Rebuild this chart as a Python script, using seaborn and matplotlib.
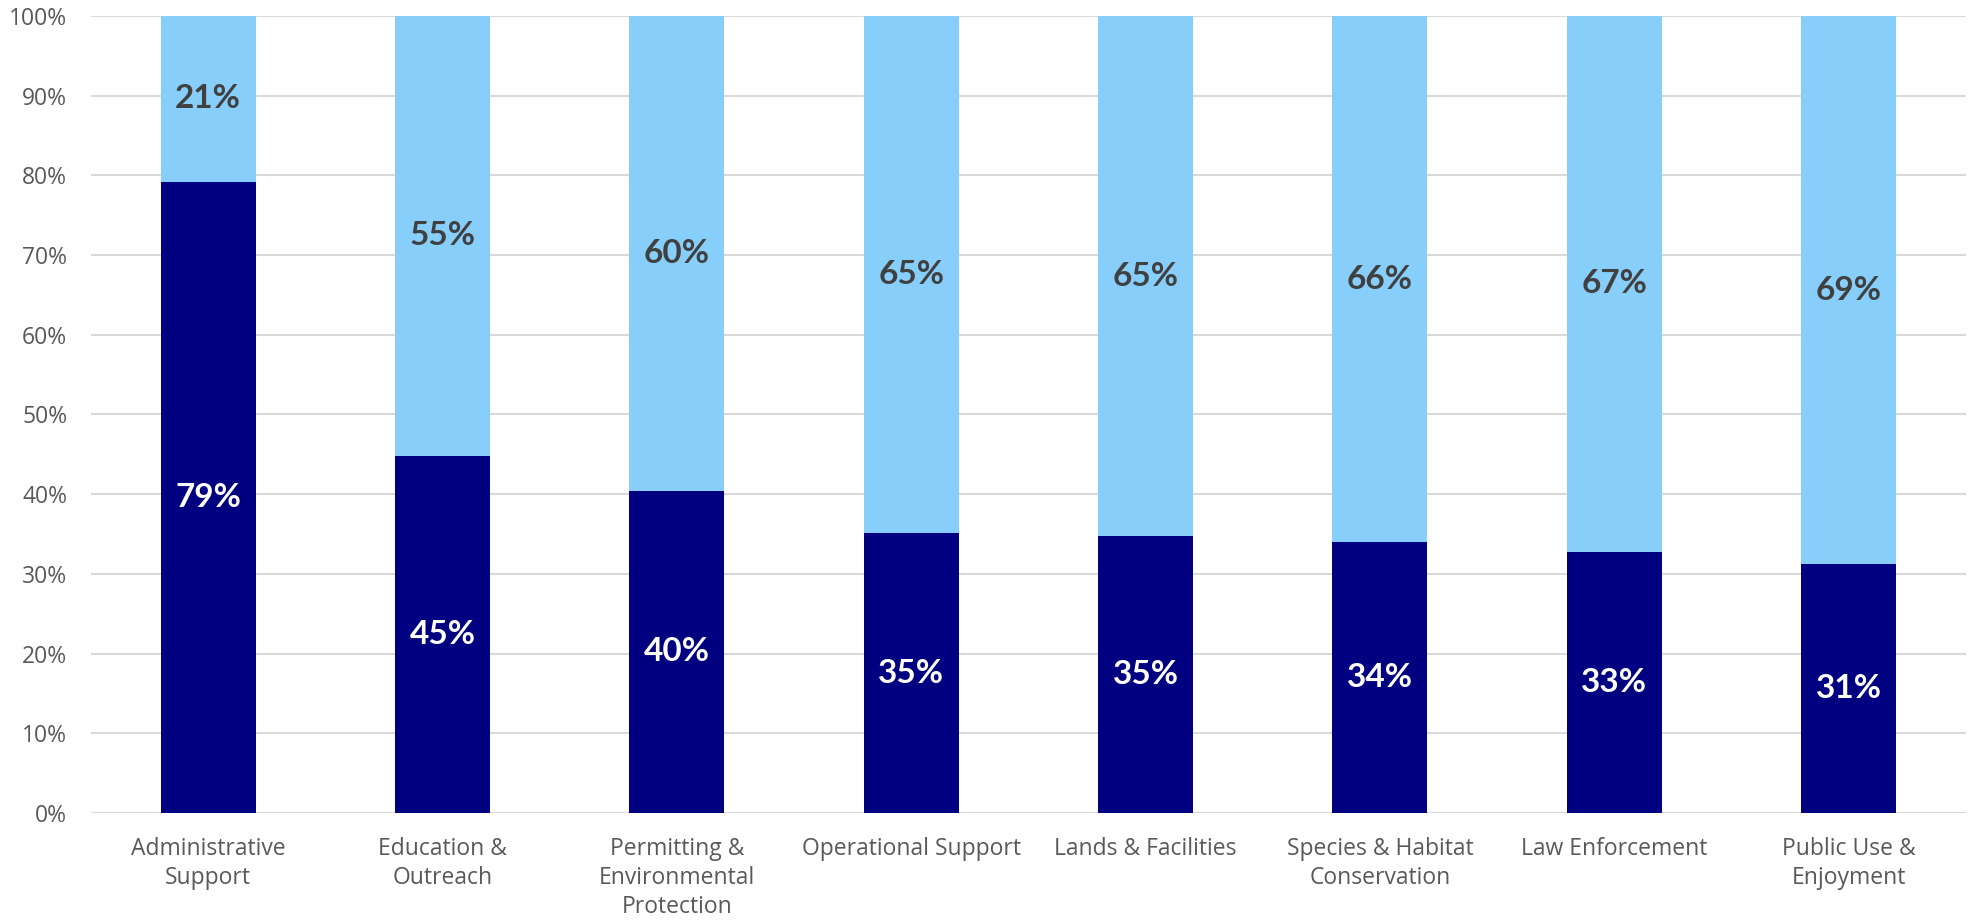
import matplotlib
matplotlib.use("Agg")
import matplotlib.pyplot as plt
import seaborn as sns
import pandas as pd
import numpy as np

categories = ["Administrative\nSupport", "Education &\nOutreach", "Permitting &\nEnvironmental\nProtection",
              "Operational Support", "Lands & Facilities", "Species & Habitat\nConservation",
              "Law Enforcement", "Public Use &\nEnjoyment"]
dark_values = [79.2, 44.8, 40.4, 35.1, 34.7, 34.0, 32.8, 31.2]
light_values = [20.8, 55.2, 59.6, 64.9, 65.3, 66.0, 67.2, 68.8]
y_ticks = [0, 10, 20, 30, 40, 50, 60, 70, 80, 90, 100]

DARK = "#000080"
LIGHT = "#87CEFA"

sns.set_theme(style="white")
plt.rcParams['font.family'] = ['Open Sans', 'DejaVu Sans']

df = pd.DataFrame({"cat": categories, "dark": dark_values, "light": light_values})
df["total"] = df["dark"] + df["light"]

fig = plt.figure(figsize=(19.86, 9.21), dpi=100)
ax = fig.add_axes([0.0458, 0.1173, 0.944, 0.8653])

sns.barplot(data=df, x="cat", y="total", color=LIGHT, saturation=1, width=0.405, ax=ax,
            zorder=3, linewidth=0)
sns.barplot(data=df, x="cat", y="dark", color=DARK, saturation=1, width=0.405, ax=ax,
            zorder=4, linewidth=0)

for i, (d, l) in enumerate(zip(dark_values, light_values)):
    ax.text(i, d / 2, f"{round(d)}%", ha="center", va="center", color="white",
            fontsize=24, fontweight="bold", family=["Lato", "DejaVu Sans"], zorder=5)
    ax.text(i, d + l / 2, f"{round(l)}%", ha="center", va="center", color="#404040",
            fontsize=24, fontweight="bold", family=["Lato", "DejaVu Sans"], zorder=5)

ax.set_ylim(0, 100)
ax.set_xlim(-0.5, len(categories) - 0.5)
ax.set_yticks(y_ticks)
ax.set_yticklabels([f"{t}%" for t in y_ticks])
ax.yaxis.grid(True, color="#d9d9d9", linewidth=1.5, zorder=0)
ax.set_axisbelow(True)
for s in ["top", "right", "left", "bottom"]:
    ax.spines[s].set_visible(False)
ax.axhline(0, color="#d9d9d9", linewidth=1.5, zorder=2)
ax.set_xlabel("")
ax.set_ylabel("")
ax.tick_params(axis="both", length=0, labelsize=16.5, colors="#595959")
ax.tick_params(axis="x", pad=17)
ax.tick_params(axis="y", pad=17)
for lbl in ax.get_xticklabels():
    lbl.set_linespacing(1.3)

fig.savefig("out.png", dpi=100)
